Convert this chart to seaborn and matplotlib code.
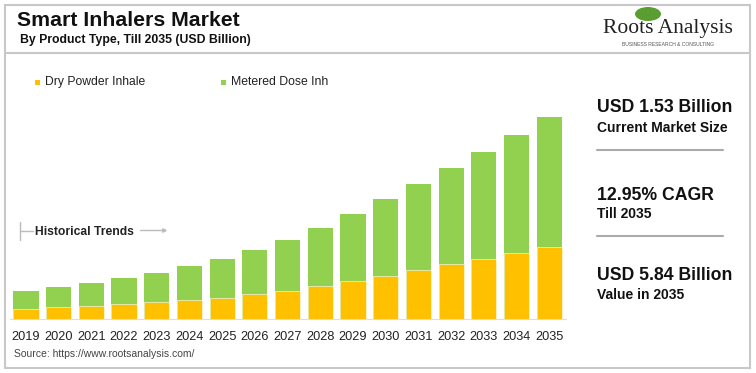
import pandas as pd
import matplotlib.pyplot as plt
import seaborn as sns
from matplotlib.patches import Rectangle, Ellipse
from matplotlib.lines import Line2D

# data (USD billion)
years = ['2019', '2020', '2021', '2022', '2023', '2024', '2025', '2026', '2027',
         '2028', '2029', '2030', '2031', '2032', '2033', '2034', '2035']
dry_powder = [0.29, 0.34, 0.37, 0.43, 0.48, 0.55, 0.62, 0.72, 0.82,
              0.95, 1.09, 1.24, 1.42, 1.58, 1.75, 1.92, 2.09]
metered_dose = [0.52, 0.58, 0.67, 0.75, 0.85, 0.98, 1.11, 1.29, 1.48,
                1.69, 1.94, 2.24, 2.50, 2.78, 3.10, 3.42, 3.75]

df = pd.DataFrame({'Year': years, 'Dry Powder': dry_powder, 'Metered Dose': metered_dose})
df['Total'] = df['Dry Powder'] + df['Metered Dose']

sns.set_style('white')
plt.rcParams['font.family'] = ['Liberation Sans', 'DejaVu Sans']

yellow = '#FFC000'
green = '#92D050'

fig = plt.figure(figsize=(7.56, 3.73), dpi=100)
W, H = 756, 373

def fx(px):
    return px / W

def fy(py):
    return 1 - py / H

# outer frame and header separator
fig.add_artist(Rectangle((fx(5), fy(368)), fx(745), (363) / H, transform=fig.transFigure,
                         fill=False, edgecolor='#c8c8c8', linewidth=1.5))
fig.add_artist(Line2D([fx(5), fx(750)], [fy(53), fy(53)], transform=fig.transFigure,
                      color='#c8c8c8', linewidth=1.5))

# bars
ax = fig.add_axes([fx(9.6), fy(319), fx(556), 241.7 / H])
sns.barplot(data=df, x='Year', y='Total', order=years, color=green, width=0.77,
            saturation=1, linewidth=0, ax=ax)
sns.barplot(data=df, x='Year', y='Dry Powder', order=years, color=yellow, width=0.77,
            saturation=1, edgecolor='white', linewidth=0.4, ax=ax)
ax.set_xlim(-0.5, 16.5)
ax.set_ylim(0, 7)
ax.set_xlabel('')
ax.set_ylabel('')
ax.set_yticks([])
ax.tick_params(axis='x', length=0, pad=8.5, labelsize=9.2, labelcolor='#222222')
for s in ['top', 'right', 'left']:
    ax.spines[s].set_visible(False)
ax.spines['bottom'].set_color('#dddddd')
ax.spines['bottom'].set_linewidth(0.8)

# titles
fig.text(fx(17), fy(20), 'Smart Inhalers Market', fontsize=15.3, fontweight='bold',
         color='#111111', va='center')
fig.text(fx(20), fy(40), 'By Product Type, Till 2035 (USD Billion)', fontsize=8.8,
         fontweight='bold', color='#111111', va='center')

# legend (truncated labels as in the original)
fig.add_artist(Rectangle((fx(35), fy(85)), fx(5), 5 / H, transform=fig.transFigure,
                         color=yellow, linewidth=0))
fig.text(fx(45), fy(82), 'Dry Powder Inhale', fontsize=8.7, color='#222222', va='center')
fig.add_artist(Rectangle((fx(221), fy(85)), fx(5), 5 / H, transform=fig.transFigure,
                         color=green, linewidth=0))
fig.text(fx(231), fy(82), 'Metered Dose Inh', fontsize=8.8, color='#222222', va='center')

# historical trends marker
fig.add_artist(Line2D([fx(20), fx(20)], [fy(222), fy(240)], transform=fig.transFigure,
                      color='#bbbbbb', linewidth=1))
fig.add_artist(Line2D([fx(20), fx(33)], [fy(231), fy(231)], transform=fig.transFigure,
                      color='#bbbbbb', linewidth=1))
fig.text(fx(35), fy(232), 'Historical Trends', fontsize=8.7, fontweight='bold',
         color='#222222', va='center')
fig.add_artist(Line2D([fx(140), fx(164)], [fy(230), fy(230)], transform=fig.transFigure,
                      color='#bbbbbb', linewidth=1, marker='>', markersize=2.5,
                      markevery=[1]))

# source
fig.text(fx(14), fy(354), 'Source: https://www.rootsanalysis.com/', fontsize=7.5,
         color='#444444', va='center')

# logo
fig.add_artist(Ellipse((fx(648), fy(14)), fx(26), 14 / H, transform=fig.transFigure,
                       color='#5a9e32', linewidth=0))
fig.text(fx(668), fy(28), 'Roots Analysis', fontsize=15.5, family='Liberation Serif',
         color='#222222', ha='center', va='center')
fig.text(fx(668), fy(44), 'BUSINESS RESEARCH & CONSULTING', fontsize=3.6,
         color='#555555', ha='center', va='center')

# right-hand summary panel
fig.text(fx(597), fy(107), 'USD 1.53 Billion', fontsize=12.7, fontweight='bold',
         color='#111111', va='center')
fig.text(fx(597), fy(128), 'Current Market Size', fontsize=10, fontweight='bold',
         color='#111111', va='center')
fig.add_artist(Line2D([fx(597), fx(723)], [fy(150), fy(150)], transform=fig.transFigure,
                      color='#aaaaaa', linewidth=1.5))
fig.text(fx(597), fy(196), '12.95% CAGR', fontsize=12.7, fontweight='bold',
         color='#111111', va='center')
fig.text(fx(597), fy(214), 'Till 2035', fontsize=10, fontweight='bold',
         color='#111111', va='center')
fig.add_artist(Line2D([fx(597), fx(723)], [fy(236), fy(236)], transform=fig.transFigure,
                      color='#aaaaaa', linewidth=1.5))
fig.text(fx(597), fy(275), 'USD 5.84 Billion', fontsize=12.7, fontweight='bold',
         color='#111111', va='center')
fig.text(fx(597), fy(295), 'Value in 2035', fontsize=10, fontweight='bold',
         color='#111111', va='center')

fig.savefig('out.png', dpi=100)
